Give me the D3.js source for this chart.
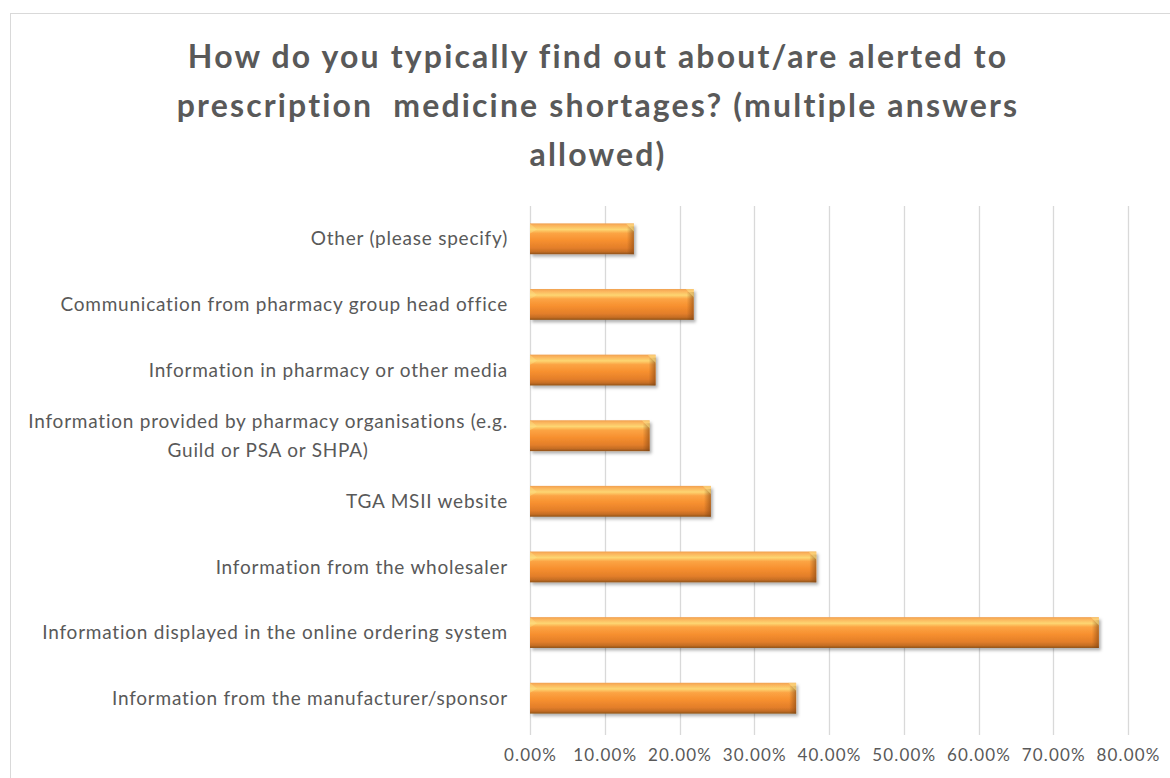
<!DOCTYPE html>
<html><head><meta charset="utf-8">
<script src="https://cdn.jsdelivr.net/npm/d3@7"></script>
<style>html,body{margin:0;padding:0;background:#fff;}svg{display:block;}</style>
</head><body>
<svg id="chart" width="1170" height="778"></svg>
<script>
const titleLines = ["How do you typically find out about/are alerted to", "prescription\u00a0 medicine shortages? (multiple answers", "allowed)"];
const categories = [
  "Other (please specify)",
  "Communication from pharmacy group head office",
  "Information in pharmacy or other media",
  "Information provided by pharmacy organisations (e.g.|Guild or PSA or SHPA)",
  "TGA MSII website",
  "Information from the wholesaler",
  "Information displayed in the online ordering system",
  "Information from the manufacturer/sponsor"
];
const values = [0.139, 0.219, 0.168, 0.160, 0.242, 0.383, 0.761, 0.356];
const ticks = [0, 0.1, 0.2, 0.3, 0.4, 0.5, 0.6, 0.7, 0.8];

const svg = d3.select("#chart");
const textColor = "#595959";
const fontFam = "Lato, 'Open Sans', sans-serif";

// fit letter-spacing so a reference string reaches a target width
function fitSpacing(sel, target) {
  const n = sel.node();
  const w = n.getComputedTextLength();
  const chars = n.textContent.length;
  return (target - w) / chars;
}

svg.append("rect").attr("x", 10.5).attr("y", 13.5).attr("width", 1200).attr("height", 800)
  .attr("fill", "#fff").attr("stroke", "#d9d9d9").attr("stroke-width", 1);

const defs = svg.append("defs");
const g1 = defs.append("linearGradient").attr("id", "barGrad").attr("x1", 0).attr("y1", 0).attr("x2", 0).attr("y2", 1);
[[0, "#f0a050"], [0.07, "#fbb45c"], [0.2, "#fdd672"], [0.32, "#fca444"], [0.55, "#f7902f"], [0.8, "#e37e2a"], [0.92, "#c46d24"], [1, "#8f5218"]]
  .forEach(([o, c]) => g1.append("stop").attr("offset", o).attr("stop-color", c));
const g2 = defs.append("linearGradient").attr("id", "endGrad").attr("x1", 0).attr("y1", 0).attr("x2", 1).attr("y2", 0);
g2.append("stop").attr("offset", 0).attr("stop-color", "#7a4010").attr("stop-opacity", 0);
g2.append("stop").attr("offset", 1).attr("stop-color", "#7a4010").attr("stop-opacity", 0.55);
const f = defs.append("filter").attr("id", "shadow").attr("x", "-5%").attr("y", "-30%").attr("width", "115%").attr("height", "170%");
f.append("feDropShadow").attr("dx", 2).attr("dy", 2.5).attr("stdDeviation", 1.8).attr("flood-color", "#000").attr("flood-opacity", 0.3);

const x = d3.scaleLinear().domain([0, 0.8]).range([530, 1128]);
const y = d3.scaleBand().domain(categories).range([206, 731]).paddingInner(0.53).paddingOuter(0.265);

svg.append("g").selectAll("line").data(ticks).join("line")
  .attr("x1", d => Math.round(x(d)) + 0.5).attr("x2", d => Math.round(x(d)) + 0.5)
  .attr("y1", 206).attr("y2", 735)
  .attr("stroke", "#d9d9d9").attr("stroke-width", 1.3);

// x axis
const xAxis = d3.axisBottom(x).tickValues(ticks).tickFormat(d3.format(".2%")).tickSize(0).tickPadding(0);
const ax = svg.append("g").attr("transform", "translate(0,761)").call(xAxis);
ax.select(".domain").remove();
const tickTexts = ax.selectAll("text").attr("fill", textColor).attr("font-family", fontFam)
  .attr("font-size", 17).attr("dy", "0");
const tickLS = fitSpacing(ax.select("text"), 53);
tickTexts.attr("letter-spacing", tickLS);

// bars
const bars = svg.append("g").selectAll("g").data(categories).join("g");
bars.append("rect")
  .attr("x", x(0)).attr("y", d => y(d))
  .attr("width", (d, i) => x(values[i]) - x(0)).attr("height", y.bandwidth())
  .attr("fill", "url(#barGrad)").attr("filter", "url(#shadow)");
bars.append("rect")
  .attr("x", (d, i) => x(values[i]) - 7).attr("y", d => y(d) + 3)
  .attr("width", 7).attr("height", y.bandwidth() - 3)
  .attr("fill", "url(#endGrad)");
bars.append("path")
  .attr("d", (d, i) => {
    const xe = x(values[i]), yt = y(d);
    return `M${xe - 8},${yt} L${xe},${yt} L${xe},${yt + 8} Z`;
  })
  .attr("fill", "#fde38a").attr("opacity", 0.55);
bars.append("path")
  .attr("d", d => {
    const xs = x(0), yt = y(d);
    return `M${xs},${yt} L${xs + 7},${yt + 6} L${xs},${yt + 10} Z`;
  })
  .attr("fill", "#fde38a").attr("opacity", 0.4);

// category labels
const labels = svg.append("g").attr("font-family", fontFam).attr("font-size", 19).attr("fill", textColor);
const probe = labels.append("text").text(categories[6].split("|")[0]);
const labLS = fitSpacing(probe, 466);
probe.remove();
labels.attr("letter-spacing", labLS);
categories.forEach(c => {
  const lines = c.split("|");
  const cy = y(c) + y.bandwidth() / 2;
  if (lines.length === 1) {
    labels.append("text").attr("x", 508).attr("y", cy).attr("dy", "0.35em")
      .attr("text-anchor", "end").text(lines[0]);
  } else {
    const t = labels.append("g");
    const lh = 28.5;
    const ts = lines.map((l, k) => t.append("text").attr("y", cy + (k - (lines.length - 1) / 2) * lh)
      .attr("dy", "0.35em").attr("text-anchor", "middle").text(l));
    const w = d3.max(ts, s => s.node().getComputedTextLength());
    ts.forEach(s => s.attr("x", 508 - w / 2));
  }
});

// title
const title = svg.append("g").attr("font-family", fontFam).attr("font-weight", "bold")
  .attr("font-size", 32).attr("fill", textColor);
const tprobe = title.append("text").text(titleLines[0]);
const titLS = fitSpacing(tprobe, 820);
tprobe.remove();
title.attr("letter-spacing", titLS);
title.selectAll("text").data(titleLines).join("text")
  .attr("x", 598).attr("y", (d, i) => 57 + i * 49).attr("dy", "0.35em")
  .attr("text-anchor", "middle").text(d => d);
</script>
</body></html>
